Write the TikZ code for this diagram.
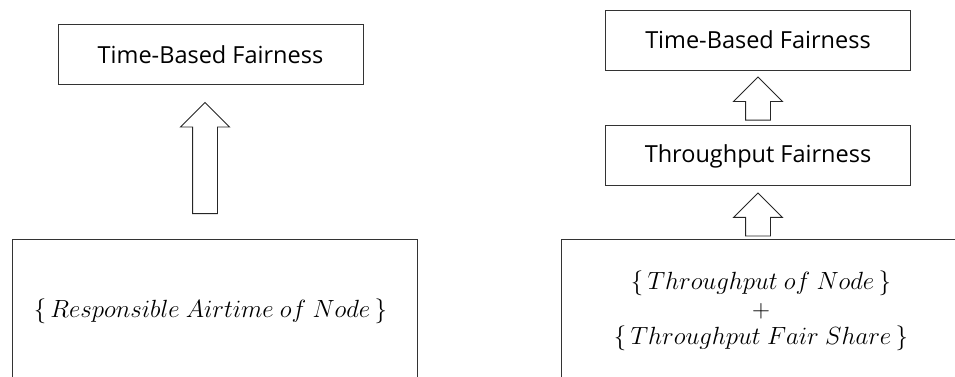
\documentclass[tikz,border=0pt]{standalone}
\usepackage{fontspec}
\setmainfont{Open Sans}
\usetikzlibrary{positioning,shapes.arrows}

\tikzset{
	fairbox/.style={draw=black!80, line width=0.9pt, minimum width=305pt, minimum height=60pt, inner sep=0pt, font=\fontsize{23.5}{28}\selectfont},
	sourcebox/.style={draw=black!80, line width=0.9pt, minimum width=405pt, minimum height=144pt, inner sep=0pt, align=center, font=\fontsize{24}{27.5}\selectfont},
	uparrow/.style={draw=black!85, line width=0.9pt, single arrow, rotate=90, single arrow head extend=12pt, inner xsep=0pt, inner ysep=12pt}
}

\begin{document}
\begin{tikzpicture}

		\useasboundingbox (0,0) rectangle (955pt,-376pt);
		\clip (0,0) rectangle (955pt,-376pt);

		% left: airtime
		\node[fairbox] (ltime) at (210.5pt,-54.5pt) {Time-Based Fairness};
		\node[sourcebox] (lsrc) at (214.5pt,-311pt) {$\{\,Responsible\ Airtime\ of\ Node\,\}$\hspace*{8pt}};
		\node[uparrow, minimum height=111pt, anchor=tip] (larrow) at ([xshift=-5.5pt,yshift=-17pt]ltime.south) {};

		% right: throughput
		\node[fairbox] (rtime) at (758pt,-40pt) {Time-Based Fairness};
		\node[fairbox, below=55pt of rtime] (rthr) {Throughput Fairness};
		\node[sourcebox, minimum width=400pt] (rsrc) at (761pt,-311pt) {$\{\,Throughput\ of\ Node\,\}$ \\ $+$ \\ $\{\,Throughput\ Fair\ Share\,\}$};
		\node[uparrow, minimum height=43pt, anchor=tip] (rarrow1) at ([yshift=-6pt]rtime.south) {};
		\node[uparrow, minimum height=43pt, anchor=tip] (rarrow2) at ([yshift=-6pt]rthr.south) {};

\end{tikzpicture}
\end{document}
